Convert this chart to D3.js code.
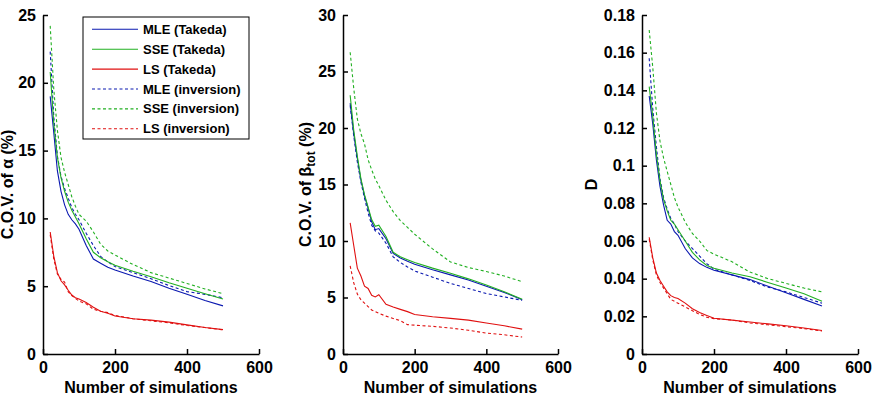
<!DOCTYPE html>
<html>
<head>
<meta charset="utf-8">
<script src="https://cdn.jsdelivr.net/npm/d3@7"></script>
<style>
  body { margin: 0; background: #fff; }
  text { font-family: Arial, "Liberation Sans", sans-serif; font-weight: bold; fill: #000; }
</style>
</head>
<body>
<svg id="chart" width="876" height="398"></svg>
<script>
// number of simulations (x values shared by every series)
const nSim = [20, 30, 40, 50, 60, 70, 80, 90, 100, 120, 140, 160, 180, 200, 250, 300, 350, 400, 450, 500];

// panel 1 : C.O.V. of alpha (%)
const alphaMleTakeda = [19.0, 16.3, 13.5, 12.0, 11.0, 10.3, 9.9, 9.6, 9.2, 8.0, 7.0, 6.7, 6.4, 6.2, 5.75, 5.35, 4.85, 4.4, 3.95, 3.55];
const alphaSseTakeda = [20.8, 17.0, 14.5, 13.0, 12.0, 11.2, 10.6, 10.1, 9.6, 8.5, 7.5, 7.1, 6.8, 6.55, 6.1, 5.7, 5.25, 4.85, 4.45, 4.05];
const alphaLsTakeda = [9.0, 7.2, 6.0, 5.4, 5.1, 4.7, 4.35, 4.15, 4.05, 3.8, 3.45, 3.15, 3.0, 2.8, 2.6, 2.5, 2.35, 2.15, 1.95, 1.8];
const alphaMleInv = [22.3, 17.5, 14.6, 13.1, 12.2, 11.5, 10.8, 10.3, 9.9, 8.9, 8.0, 7.2, 6.8, 6.45, 6.0, 5.55, 5.05, 4.6, 4.4, 4.15];
const alphaSseInv = [24.2, 19.5, 16.5, 14.5, 13.4, 12.5, 11.6, 10.9, 10.3, 9.8, 9.0, 8.1, 7.6, 7.3, 6.6, 6.0, 5.6, 5.2, 4.8, 4.45];
const alphaLsInv = [8.8, 7.0, 5.9, 5.5, 5.3, 4.6, 4.3, 4.1, 3.9, 3.7, 3.3, 3.15, 3.05, 2.85, 2.6, 2.45, 2.3, 2.1, 1.95, 1.78];

// panel 2 : C.O.V. of beta_tot (%)
const betaMleTakeda = [22.2, 19.5, 17.3, 15.4, 14.0, 12.9, 11.7, 11.0, 11.1, 10.2, 8.9, 8.5, 8.2, 7.95, 7.45, 7.0, 6.55, 6.0, 5.45, 4.8];
const betaSseTakeda = [22.9, 19.8, 17.5, 15.5, 14.1, 13.0, 11.9, 11.3, 11.4, 10.4, 9.0, 8.6, 8.35, 8.1, 7.6, 7.15, 6.65, 6.1, 5.5, 4.85];
const betaLsTakeda = [11.6, 9.6, 7.6, 6.9, 6.0, 5.8, 5.2, 5.05, 5.25, 4.4, 4.15, 3.95, 3.75, 3.5, 3.3, 3.15, 3.0, 2.75, 2.5, 2.2];
const betaMleInv = [22.0, 19.3, 17.0, 15.2, 13.8, 12.5, 11.4, 10.9, 10.7, 9.8, 8.6, 8.1, 7.7, 7.35, 6.8, 6.25, 5.8, 5.35, 5.05, 4.75];
const betaSseInv = [26.7, 23.5, 20.8, 19.5, 18.6, 17.2, 16.3, 15.5, 14.9, 13.6, 12.6, 11.8, 11.2, 10.6, 9.3, 8.15, 7.65, 7.3, 6.9, 6.4];
const betaLsInv = [7.8, 6.3, 5.3, 4.8, 4.5, 4.2, 3.9, 3.75, 3.6, 3.35, 3.15, 2.95, 2.6, 2.55, 2.45, 2.3, 2.1, 1.85, 1.7, 1.5];

// panel 3 : D
const dMleTakeda = [0.137, 0.122, 0.103, 0.089, 0.079, 0.071, 0.069, 0.065, 0.063, 0.056, 0.051, 0.048, 0.046, 0.0445, 0.042, 0.0395, 0.036, 0.0325, 0.029, 0.0255];
const dSseTakeda = [0.142, 0.126, 0.106, 0.092, 0.082, 0.076, 0.071, 0.069, 0.066, 0.060, 0.054, 0.050, 0.047, 0.0455, 0.043, 0.041, 0.038, 0.035, 0.032, 0.028];
const dLsTakeda = [0.062, 0.051, 0.043, 0.039, 0.036, 0.033, 0.031, 0.030, 0.0295, 0.027, 0.024, 0.022, 0.0205, 0.019, 0.018, 0.017, 0.016, 0.015, 0.0138, 0.0125];
const dMleInv = [0.157, 0.130, 0.110, 0.093, 0.083, 0.077, 0.072, 0.069, 0.065, 0.060, 0.056, 0.052, 0.048, 0.045, 0.042, 0.039, 0.0355, 0.033, 0.030, 0.027];
const dSseInv = [0.172, 0.152, 0.128, 0.113, 0.104, 0.097, 0.090, 0.083, 0.078, 0.070, 0.064, 0.060, 0.055, 0.053, 0.049, 0.0435, 0.040, 0.0375, 0.035, 0.033];
const dLsInv = [0.061, 0.050, 0.042, 0.038, 0.035, 0.032, 0.029, 0.028, 0.027, 0.025, 0.023, 0.021, 0.0195, 0.0188, 0.018, 0.0165, 0.0155, 0.0145, 0.0135, 0.0122];

const seriesNames = ["MLE (Takeda)", "SSE (Takeda)", "LS (Takeda)", "MLE (inversion)", "SSE (inversion)", "LS (inversion)"];

const xTicks = [0, 200, 400, 600];
const alphaTicks = [0, 5, 10, 15, 20, 25];
const betaTicks = [0, 5, 10, 15, 20, 25, 30];
const dTicks = [0, 0.02, 0.04, 0.06, 0.08, 0.1, 0.12, 0.14, 0.16, 0.18];

const colors = ["#0a18b0", "#22b022", "#e01010", "#0a18b0", "#22b022", "#e01010"];
const dashes = [null, null, null, "3,2.5", "3,2.5", "3,2.5"];

const svg = d3.select("#chart");
const plotTop = 15, plotBottom = 354;

const panels = [
  { left: 43, width: 216, ymax: 25, ticks: alphaTicks, labelDx: -30,
    series: [alphaMleTakeda, alphaSseTakeda, alphaLsTakeda, alphaMleInv, alphaSseInv, alphaLsInv],
    label: (t) => { t.append("tspan").text("C.O.V. of α (%)"); } },
  { left: 343, width: 215, ymax: 30, ticks: betaTicks, labelDx: -32,
    series: [betaMleTakeda, betaSseTakeda, betaLsTakeda, betaMleInv, betaSseInv, betaLsInv],
    label: (t) => {
      t.append("tspan").text("C.O.V. of β");
      t.append("tspan").attr("dy", 4).style("font-size", "12px").text("tot");
      t.append("tspan").attr("dy", -4).text(" (%)");
    } },
  { left: 642, width: 216, ymax: 0.18, ticks: dTicks, labelDx: -45,
    series: [dMleTakeda, dSseTakeda, dLsTakeda, dMleInv, dSseInv, dLsInv],
    label: (t) => { t.append("tspan").text("D"); } }
];

panels.forEach(function (p, pi) {
  const x = d3.scaleLinear().domain([0, 600]).range([p.left, p.left + p.width]);
  const y = d3.scaleLinear().domain([0, p.ymax]).range([plotBottom, plotTop]);

  const line = d3.line()
    .x((d, i) => x(nSim[i]))
    .y(d => y(d));

  // draw inversion (dashed) first, then Takeda solid on top
  [3, 4, 5, 0, 1, 2].forEach(function (si) {
    svg.append("path")
      .datum(p.series[si])
      .attr("d", line)
      .attr("fill", "none")
      .attr("stroke", colors[si])
      .attr("stroke-width", 1.1)
      .attr("stroke-dasharray", dashes[si]);
  });

  const xAxis = svg.append("g")
    .attr("transform", "translate(0," + plotBottom + ")")
    .call(d3.axisBottom(x).tickValues(xTicks).tickFormat(d3.format("d"))
      .tickSizeInner(-5).tickSizeOuter(0).tickPadding(8));

  const yAxis = svg.append("g")
    .attr("transform", "translate(" + p.left + ",0)")
    .call(d3.axisLeft(y).tickValues(p.ticks).tickFormat(d => String(+d.toFixed(2)))
      .tickSizeInner(-5).tickSizeOuter(0).tickPadding(7));

  [xAxis, yAxis].forEach(function (a) {
    a.select(".domain").attr("stroke", "#000").attr("stroke-width", 1.5);
    a.selectAll(".tick line").attr("stroke", "#000").attr("stroke-width", 1.5);
    a.selectAll(".tick text").style("font-size", "16px").style("font-family", "Arial, 'Liberation Sans', sans-serif").style("font-weight", "bold");
  });

  svg.append("text")
    .attr("x", p.left + p.width / 2)
    .attr("y", 393)
    .attr("text-anchor", "middle")
    .style("font-size", "16px")
    .text("Number of simulations");

  const yl = svg.append("text")
    .attr("transform", "translate(" + (p.left + p.labelDx) + "," + ((plotTop + plotBottom) / 2) + ") rotate(-90)")
    .attr("text-anchor", "middle")
    .style("font-size", "16px");
  p.label(yl);
});

// legend in the first panel
const legend = svg.append("g").attr("transform", "translate(83,17)");
legend.append("rect")
  .attr("x", 0).attr("y", 0)
  .attr("width", 166).attr("height", 122)
  .attr("fill", "#fff").attr("stroke", "#000").attr("stroke-width", 1);

seriesNames.forEach(function (name, i) {
  const cy = 12.3 + i * 19.9;
  legend.append("line")
    .attr("x1", 9).attr("x2", 55)
    .attr("y1", cy).attr("y2", cy)
    .attr("stroke", colors[i])
    .attr("stroke-width", 1.1)
    .attr("stroke-dasharray", dashes[i]);
  legend.append("text")
    .attr("x", 60)
    .attr("y", cy)
    .attr("dy", "0.35em")
    .style("font-size", "13px")
    .text(name);
});
</script>
</body>
</html>
